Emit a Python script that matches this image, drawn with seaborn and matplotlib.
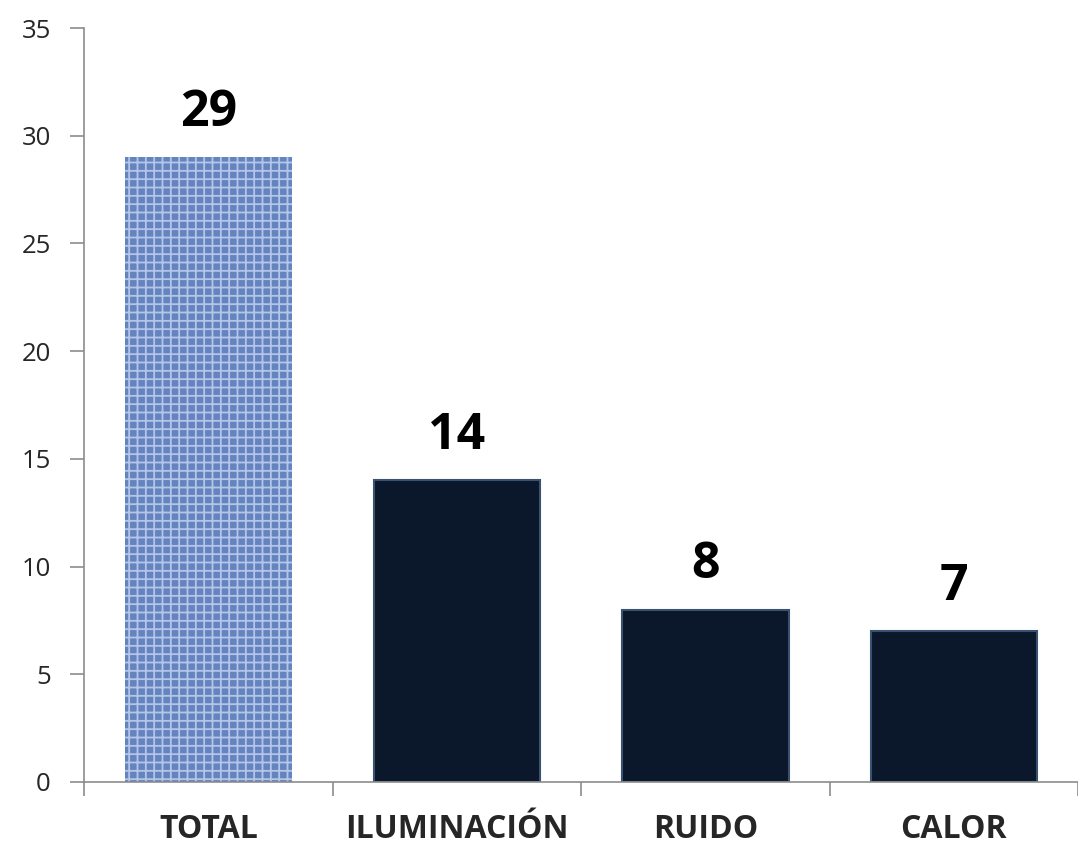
import matplotlib
matplotlib.use('Agg')
import matplotlib.pyplot as plt
import seaborn as sns
import pandas as pd

# Data
categories = ['TOTAL', 'ILUMINACIÓN', 'RUIDO', 'CALOR']
values = [29, 14, 8, 7]
bar_colors = ['#6583bf', '#0b172a', '#0b172a', '#0b172a']

df = pd.DataFrame({'categoria': categories, 'valor': values})

sns.set_style('white')
plt.rcParams['font.family'] = ['Open Sans', 'DejaVu Sans']
plt.rcParams['hatch.linewidth'] = 1.3

fig = plt.figure(figsize=(10.78, 8.44), dpi=100)
ax = fig.add_axes([0.078, 0.0735, 0.922, 0.8933])

sns.barplot(data=df, x='categoria', y='valor', hue='categoria',
            palette=bar_colors, width=0.67, legend=False, ax=ax,
            saturation=1)

# texture on the TOTAL bar, bevel-ish edge on the others
for i, patch in enumerate(ax.patches):
    if i == 0:
        patch.set_hatch('++')
        patch.set_edgecolor('#b4c6e8')
        patch.set_linewidth(0)
    else:
        patch.set_edgecolor('#3a5272')
        patch.set_linewidth(1.5)

# value labels
for i, v in enumerate(values):
    ax.annotate(str(v), (i, v), xytext=(0, 32), textcoords='offset points',
                ha='center', va='center', fontsize=36, fontweight='bold',
                color='black')

ax.set_ylim(0, 35)
ax.set_xlim(-0.5, 3.5)
ax.set_yticks(range(0, 36, 5))
ax.set_xlabel('')
ax.set_ylabel('')

# category separators as minor ticks on x
ax.set_xticks([i - 0.5 for i in range(5)], minor=True)
ax.tick_params(axis='x', which='major', length=0, pad=22, labelsize=23)
ax.tick_params(axis='x', which='minor', length=10, width=1.2, color='#8c8c8c',
               direction='out', bottom=True)
ax.tick_params(axis='y', length=10, width=1.2, color='#8c8c8c',
               direction='out', left=True, labelsize=18.5, pad=14)
for lbl in ax.get_xticklabels():
    lbl.set_fontweight('bold')

for side in ['top', 'right']:
    ax.spines[side].set_visible(False)
for side in ['left', 'bottom']:
    ax.spines[side].set_color('#8c8c8c')
    ax.spines[side].set_linewidth(1.2)

fig.savefig('out.png', dpi=100)
